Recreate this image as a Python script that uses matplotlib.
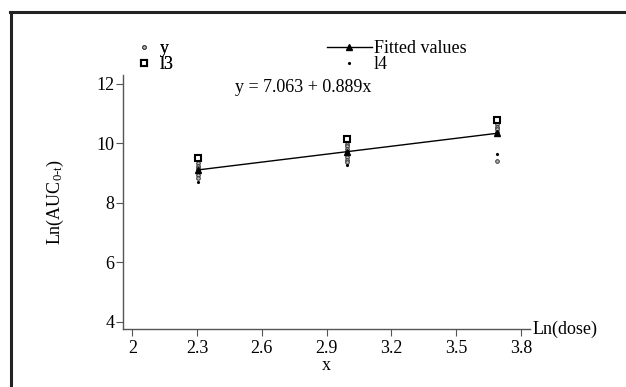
import matplotlib
matplotlib.use("Agg")
import matplotlib.pyplot as plt
from matplotlib.lines import Line2D

plt.rcParams["font.family"] = ["Liberation Serif", "DejaVu Serif"]
plt.rcParams["font.size"] = 13
plt.rcParams["mathtext.fontset"] = "custom"
plt.rcParams["mathtext.rm"] = "Liberation Serif"
plt.rcParams["mathtext.it"] = "Liberation Serif"

# ln(dose) levels
ln_dose = [2.303, 2.996, 3.689]

# observed ln(AUC0-t), per dose level
obs_x = [2.303] * 7 + [2.996] * 8 + [3.689] * 5
obs_y = [9.33, 9.25, 9.17, 9.10, 9.03, 8.95, 8.85,
         9.98, 9.90, 9.82, 9.73, 9.65, 9.55, 9.45, 9.38,
         10.65, 10.55, 10.47, 10.40, 9.41]

# fitted line y = 7.063 + 0.889x
fitted = [9.110, 9.726, 10.342]
# upper / lower limits
l3 = [9.52, 10.14, 10.78]
l4 = [8.70, 9.26, 9.66]

fig = plt.figure(figsize=(6.26, 3.87), dpi=100)
ax = fig.add_axes([0.196, 0.149, 0.651, 0.657])

h_y, = ax.plot(obs_x, obs_y, "o", ms=2.6, mfc="#bbbbbb", mec="#333333", mew=0.7,
               ls="none", label="y")
h_l3, = ax.plot(ln_dose, l3, "s", ms=5, mfc="white", mec="black", mew=1.5,
                ls="none", label="l3")
h_fit, = ax.plot(ln_dose, fitted, "-^", color="black", lw=1.0, ms=5,
                 label="Fitted values")
h_l4, = ax.plot(ln_dose, l4, ".", color="black", ms=2.5, ls="none", label="l4")

ax.set_xlim(1.955, 3.843)
ax.set_ylim(3.75, 12.3)
ax.set_xticks([2, 2.3, 2.6, 2.9, 3.2, 3.5, 3.8])
ax.set_xticklabels(["2", "2.3", "2.6", "2.9", "3.2", "3.5", "3.8"])
ax.set_yticks([4, 6, 8, 10, 12])
ax.spines["top"].set_visible(False)
ax.spines["right"].set_visible(False)
for s in ("left", "bottom"):
    ax.spines[s].set_color("#555555")
    ax.spines[s].set_linewidth(1.0)
ax.tick_params(direction="out", length=5, width=0.8, color="#555555", pad=1)
ax.tick_params(axis="x", pad=3)

ax.set_ylabel(r"Ln(AUC$_{\mathrm{0\text{-}t}}$)", labelpad=22)
ax.set_xlabel("x", labelpad=0)
ax.text(1.005, 0.0, "Ln(dose)", transform=ax.transAxes, ha="left", va="center")

ax.text(0.276, 0.953, "y = 7.063 + 0.889x", transform=ax.transAxes,
        ha="left", va="center")

leg1 = fig.legend(handles=[h_y, h_l3], loc="upper left",
                  bbox_to_anchor=(0.218, 0.897), frameon=False,
                  handlelength=0.8, handletextpad=0.5, labelspacing=-0.05,
                  borderpad=0, borderaxespad=0)
fig.legend(handles=[h_fit, h_l4], loc="upper left",
           bbox_to_anchor=(0.522, 0.897), frameon=False,
           handlelength=2.5, handletextpad=0.1, labelspacing=-0.05,
           borderpad=0, borderaxespad=0)
fig.add_artist(leg1)

# page frame (left and top rules)
fig.add_artist(Line2D([0.017, 0.017], [0.0, 0.969], color="#222222", lw=2.2,
                      transform=fig.transFigure))
fig.add_artist(Line2D([0.016, 1.0], [0.969, 0.969], color="#222222", lw=2.2,
                      transform=fig.transFigure))

fig.savefig("out.png", dpi=100)
